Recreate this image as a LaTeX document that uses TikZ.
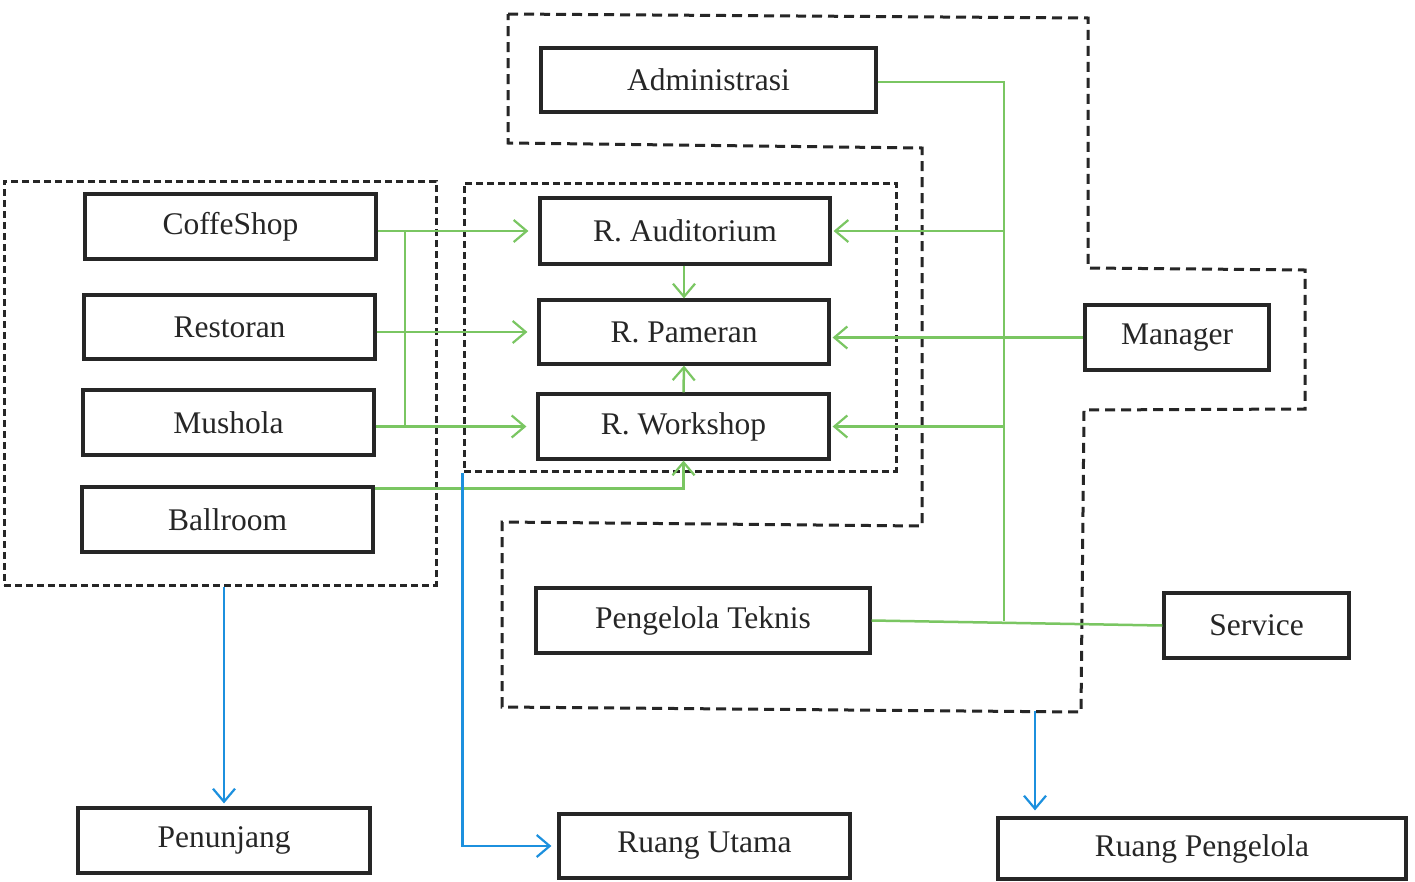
\documentclass[tikz,border=0pt]{standalone}
\usepackage{fontspec}
\setmainfont{Liberation Serif}
\usetikzlibrary{arrows.meta,calc}
\definecolor{ink}{RGB}{38,38,38}
\definecolor{flowgreen}{RGB}{122,198,98}
\definecolor{flowblue}{RGB}{28,144,222}
\tikzset{
  room/.style={draw=ink, line width=3.2pt, rectangle, text=ink, inner sep=0pt,
    font=\fontsize{31.5}{36}\selectfont},
  zone/.style={draw=ink, line width=3pt, dash pattern=on 10pt off 6pt},
  finezone/.style={draw=ink, line width=3pt, dash pattern=on 7pt off 4pt},
  barb/.style={-{Straight Barb[length=13pt,width=22pt,line width=2.2pt]}},
  gline/.style={draw=flowgreen, line width=2.5pt},
  garrow/.style={gline, barb},
  barrow/.style={draw=flowblue, line width=2.5pt, barb},
}
\begin{document}
\begin{tikzpicture}[x=1pt,y=-1pt]
\useasboundingbox[fill=white] (0,0) rectangle (1415,881);

% grouping zones
\node[finezone, minimum width=432pt, minimum height=404pt] (gP) at (220,383) {};
\node[finezone, minimum width=432pt, minimum height=288pt] (gU) at (680,327) {};
\draw[zone] (508,14) -- (1088,18) -- (1088,268) -- (1305,270) -- (1305,409)
  -- (1084,410) -- (1081,712) -- (502,707) -- (502,522) -- (922,526)
  -- (922,148) -- (508,143) -- cycle;
\coordinate (gK) at (1035,711);

% rooms
\node[room, minimum width=335pt, minimum height=64pt] (admin) at (708.5,80) {Administrasi};
\node[room, minimum width=291pt, minimum height=65pt] (cs)   at (230.5,226.5) {CoffeShop};
\node[room, minimum width=291pt, minimum height=64pt] (rest) at (229.5,327) {Restoran};
\node[room, minimum width=291pt, minimum height=65pt] (mush) at (228.5,422.5) {Mushola};
\node[room, minimum width=291pt, minimum height=65pt] (ball) at (227.5,519.5) {Ballroom};
\node[room, minimum width=290pt, minimum height=66pt] (aud)  at (685,231) {R. Auditorium};
\node[room, minimum width=290pt, minimum height=64pt] (pam)  at (684,332) {R. Pameran};
\node[room, minimum width=291pt, minimum height=65pt] (ws)   at (683.5,426.5) {R. Workshop};
\node[room, minimum width=184pt, minimum height=65pt] (mgr)  at (1177,337.5) {Manager};
\node[room, minimum width=334pt, minimum height=65pt] (pt)   at (703,620.5) {Pengelola Teknis};
\node[room, minimum width=185pt, minimum height=65pt] (svc)  at (1256.5,625.5) {Service};
\node[room, minimum width=292pt, minimum height=65pt] (pen)  at (224,840.5) {Penunjang};
\node[room, minimum width=291pt, minimum height=64pt] (ru)   at (704.5,846) {Ruang Utama};
\node[room, minimum width=408pt, minimum height=61pt] (rp)   at (1202,848.5) {Ruang Pengelola};

% supporting rooms feeding the main rooms
\coordinate (lb) at (405,0);
\draw[gline] (lb |- aud.west) -- (lb |- ws.west);
\draw[garrow, shorten >=10pt] (cs.east |- aud.west) -- (aud.west);
\draw[garrow, shorten >=10pt] (rest.east |- pam.west) -- (pam.west);
\draw[garrow, shorten >=10pt] (mush.east |- ws.west) -- (ws.west);
\draw[garrow] ($(ball.north east)+(0,3)$) -| (ws.south);

% links between main rooms
\draw[garrow] (pam.north |- aud.south) -- (pam.north);
\draw[garrow] (ws.north) -- (pam.south);

% management bus
\coordinate (rb) at (1004,0);
\draw[gline] ($(admin.east)+(0,2)$) -| (rb |- pt.east);
\draw[gline] (pt.east) -- (svc.west);
\draw[garrow, shorten >=2pt] (rb |- aud.east) -- (aud.east);
\draw[garrow, shorten >=2pt] (mgr.west) -- (pam.east |- mgr.west);
\draw[garrow, shorten >=2pt] (rb |- ws.east) -- (ws.east);

% zones to their categories
\draw[barrow, shorten >=3pt] (gP.south -| pen.north) -- (pen.north);
\draw[barrow, shorten >=6pt] (gU.south west) |- (ru.west);
\draw[barrow, shorten >=6pt] (gK) -- (rp.north -| gK);
\end{tikzpicture}
\end{document}
